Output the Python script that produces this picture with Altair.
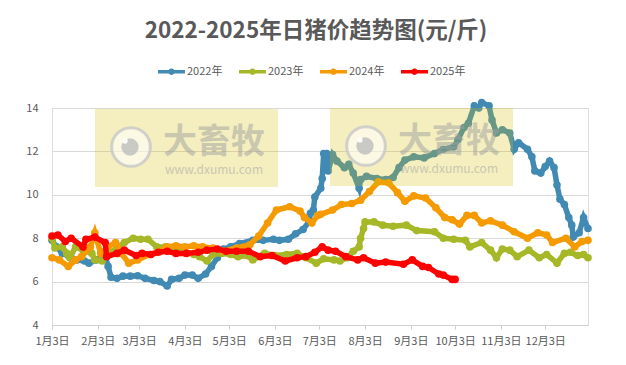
import altair as alt
import pandas as pd

TITLE = "2022-2025年日猪价趋势图(元/斤)"
YEARS = ["2022年", "2023年", "2024年", "2025年"]
COLORS = ["#418ab3", "#a6b727", "#f59a00", "#ff0000"]
TICK_DAYS = [0, 31, 59, 90, 120, 151, 181, 212, 243, 273, 304, 334]
TICK_LABELS = ["1月3日", "2月3日", "3月3日", "4月3日", "5月3日", "6月3日",
               "7月3日", "8月3日", "9月3日", "10月3日", "11月3日", "12月3日"]

d2022 = [0,3,7,11,17,22,25,30,36,38,40,44,48,53,58,63,69,73,78,81,86,90,95,99,104,108,112,116,121,127,136,143,150,154,160,165,170,174,175,177,178,182,183,184,186,187,190,193,198,201,204,208,209,213,220,226,231,235,239,245,252,259,265,272,275,279,282,286,289,291,296,298,301,305,310,313,316,322,325,327,331,334,337,340,342,344,347,350,352,353,357,360,363]
v2022 = [7.9,7.6,7.3,7.2,7.0,6.95,6.85,7.0,7.2,6.7,6.2,6.15,6.25,6.25,6.27,6.15,6.05,6.0,5.8,6.1,6.15,6.3,6.3,6.15,6.35,6.7,7.1,7.5,7.6,7.75,7.9,7.9,7.95,7.9,7.95,8.2,8.4,8.75,9.15,9.3,9.9,10.3,10.75,11.9,11.9,11.1,11.85,11.55,11.25,11.4,11.0,10.3,10.7,10.85,10.75,10.7,10.8,11.25,11.6,11.75,11.7,11.9,12.1,12.2,12.55,13.1,13.3,14.1,14.0,14.25,14.1,13.45,12.85,13.0,12.85,12.1,12.4,12.1,11.75,11.1,11.0,11.3,11.55,11.25,10.45,9.8,9.55,8.95,8.6,8.05,8.25,8.95,8.45]
d2023 = [0,2,7,10,12,16,21,27,29,34,38,44,49,55,60,65,71,77,82,89,96,100,105,109,115,121,126,132,136,144,151,159,166,172,179,184,191,195,200,204,208,209,211,212,218,224,231,240,247,259,265,272,280,283,291,297,301,305,310,315,323,330,335,342,347,351,356,360,363]
v2023 = [8.0,7.55,7.6,7.3,7.1,7.6,7.45,7.3,7.0,6.95,7.25,7.55,7.8,8.0,7.95,7.95,7.6,7.6,7.55,7.4,7.25,7.15,6.95,7.25,7.3,7.25,7.15,7.2,7.0,7.3,7.2,7.25,7.3,7.1,6.85,7.05,7.0,6.95,7.1,7.4,7.6,8.0,8.45,8.75,8.75,8.6,8.55,8.6,8.35,8.3,8.0,7.95,7.9,7.6,7.8,7.45,7.1,7.5,7.45,7.15,7.45,7.1,7.25,6.85,7.3,7.35,7.2,7.25,7.1]
d2024 = [0,5,11,16,20,26,29,33,38,43,47,52,58,66,73,78,84,90,96,102,109,116,125,134,140,146,152,161,168,171,176,180,182,190,196,203,209,215,221,228,234,239,245,253,260,266,271,276,281,286,291,297,305,313,322,329,335,339,348,354,359,363]
v2024 = [7.1,7.0,6.7,7.0,7.15,7.6,8.25,7.3,7.6,7.8,7.3,6.85,7.0,7.25,7.4,7.6,7.65,7.6,7.65,7.6,7.55,7.4,7.55,7.7,8.1,8.7,9.3,9.45,9.25,8.95,8.7,9.05,9.1,9.3,9.55,9.6,9.75,10.15,10.6,10.55,10.1,9.7,9.95,9.85,9.4,8.95,8.85,8.65,9.05,9.05,8.7,8.8,8.6,8.3,8.0,8.25,8.15,7.8,8.0,7.6,7.85,7.9]
d2025 = [0,4,9,13,21,23,29,36,37,44,49,57,61,67,72,78,84,91,99,105,112,118,125,133,141,149,158,166,172,178,183,187,192,199,207,211,219,226,238,244,251,255,262,265,271,273]
v2025 = [8.1,8.15,7.85,8.0,7.6,7.95,8.05,7.8,7.15,7.3,7.45,7.2,7.3,7.25,7.35,7.4,7.3,7.3,7.35,7.45,7.5,7.4,7.4,7.4,7.15,7.2,6.95,7.1,7.15,7.35,7.6,7.45,7.4,7.15,7.0,7.1,6.85,6.9,6.8,7.0,6.7,6.65,6.35,6.3,6.1,6.1]
SERIES = [(d2022, v2022), (d2023, v2023), (d2024, v2024), (d2025, v2025)]

FONT = "Noto Sans CJK SC"
GRAY = "#595959"
LEGEND_PATH = ("M-1,-0.13 L-0.2,-0.13 A0.24,0.24 0 0 1 0.2,-0.13 L1,-0.13 L1,0.13 "
               "L0.2,0.13 A0.24,0.24 0 0 1 -0.2,0.13 L-1,0.13 Z")

labels_expr = ("[" + ",".join(f"'{s}'" for s in TICK_LABELS) + "][indexof(["
               + ",".join(str(d) for d in TICK_DAYS) + "],datum.value)]")
x_enc = alt.X("day:Q", scale=alt.Scale(domain=[0, 363], nice=False, zero=False),
              axis=alt.Axis(values=TICK_DAYS, labelExpr=labels_expr, title=None, grid=False,
                            labelFont=FONT, labelFontSize=11, labelColor=GRAY, labelPadding=6,
                            tickColor="#d0d0d0", tickSize=4, domainColor="#d0d0d0",
                            labelOverlap=False, labelFlush=False))
y_enc = alt.Y("price:Q", scale=alt.Scale(domain=[4, 14], nice=False, zero=False),
              axis=alt.Axis(values=[4, 6, 8, 10, 12, 14], title=None, grid=True,
                            gridColor="#d9d9d9", domain=False, ticks=False,
                            labelFont=FONT, labelFontSize=11, labelColor=GRAY, labelPadding=14))
color_scale = alt.Scale(domain=YEARS, range=COLORS)
legend = alt.Legend(title=None, orient="none", legendX=106, legendY=-50, direction="horizontal",
                    symbolType=LEGEND_PATH, symbolSize=729, symbolStrokeWidth=0,
                    labelFont=FONT, labelFontSize=11, labelColor=GRAY, labelOffset=2,
                    columnPadding=16, symbolOpacity=1)

layers = []
for year, col, (days, vals) in zip(YEARS, COLORS, SERIES):
    df = pd.DataFrame({"day": days, "price": vals, "year": year})
    base = alt.Chart(df).encode(x=x_enc, y=y_enc)
    layers.append(base.mark_line(strokeWidth=5.5, clip=False, color=col))
    layers.append(base.mark_circle(size=58, opacity=1, clip=False).encode(
        color=alt.Color("year:N", scale=color_scale, legend=legend)))

one = alt.Data(values=[{"k": 1}])
def rect(x, x2, y, y2):
    return alt.Chart(one).mark_rect(color="#d7bf03", opacity=0.25).encode(
        x=alt.value(x), x2=alt.value(x2), y=alt.value(y), y2=alt.value(y2))
def text(s, x, y, size, weight="normal", color="#a0a0a0", op=0.5):
    return alt.Chart(one).mark_text(text=s, font=FONT, fontSize=size, fontWeight=weight,
                                    color=color, opacity=op).encode(
        x=alt.value(x), y=alt.value(y))
def dot(x, y, size, **kw):
    return alt.Chart(one).mark_circle(size=size, **kw).encode(x=alt.value(x), y=alt.value(y))

for ox, oy in [(0, 0), (235, -1)]:
    layers += [
        rect(43 + ox, 226 + ox, 1 + oy, 79 + oy),
        dot(79 + ox, 39 + oy, 1500, color="#ffffff", opacity=0.55),
        alt.Chart(one).mark_point(size=1500, color="#c8c8c8", strokeWidth=3, opacity=0.8, filled=False).encode(
            x=alt.value(79 + ox), y=alt.value(39 + oy)),
        dot(78 + ox, 39 + oy, 300, color="#bdbdbd", opacity=0.8),
        dot(73 + ox, 33 + oy, 28, color="#ffffff", opacity=0.9),
        text("大畜牧", 162 + ox, 35 + oy, 34, weight="bold"),
        text("www.dxumu.com", 162 + ox, 62 + oy, 12),
    ]

chart = alt.layer(*layers).properties(
    width=536, height=217,
    title=alt.TitleParams(TITLE, font=FONT, fontSize=22.5, fontWeight="bold", color=GRAY,
                          anchor="middle", frame="group", dx=-4, offset=16),
    padding={"left": 44, "top": 100, "right": 30, "bottom": 30},
    autosize=alt.AutoSizeParams(type="none"),
).configure_view(stroke=None).configure(background="#ffffff")

chart.save("out.html", embed_options={"renderer": "svg", "actions": False})
